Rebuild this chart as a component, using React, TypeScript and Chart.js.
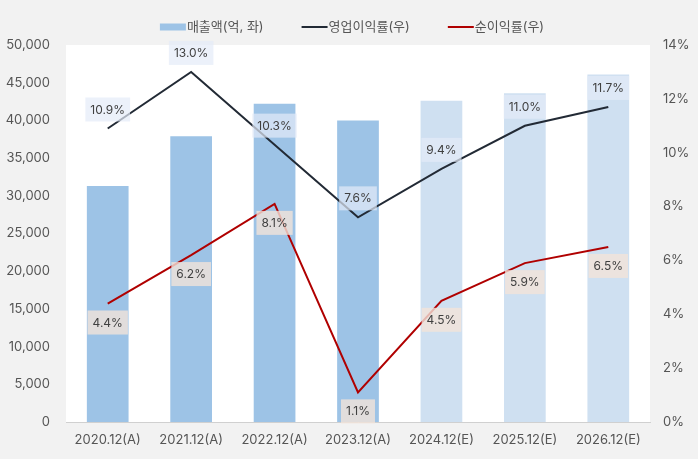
import React, { useEffect, useRef } from "react";
import { Chart, registerables } from "chart.js";

Chart.register(...registerables);

const categories = ["2020.12(A)", "2021.12(A)", "2022.12(A)", "2023.12(A)", "2024.12(E)", "2025.12(E)", "2026.12(E)"];
const revenue = [31300, 37900, 42200, 40000, 42600, 43600, 46100];
const opMargin = [10.9, 13.0, 10.3, 7.6, 9.4, 11.0, 11.7];
const netMargin = [4.4, 6.2, 8.1, 1.1, 4.5, 5.9, 6.5];
const isEstimate = [false, false, false, false, true, true, true];
const seriesNames = ["매출액(억, 좌)", "영업이익률(우)", "순이익률(우)"];

const FONT = "Inter, 'Noto Sans CJK KR', sans-serif";

const bgPlugin = {
  id: "bgPlugin",
  beforeDraw(chart: any) {
    const { ctx, chartArea } = chart;
    ctx.save();
    ctx.fillStyle = "#f2f2f2";
    ctx.fillRect(0, 0, chart.width, chart.height);
    ctx.fillStyle = "#ffffff";
    ctx.fillRect(chartArea.left, chartArea.top, chartArea.right - chartArea.left, chartArea.bottom - chartArea.top);
    ctx.restore();
  },
};

const legendPlugin = {
  id: "customLegend",
  afterDraw(chart: any) {
    const ctx = chart.ctx;
    ctx.save();
    ctx.font = `13px ${FONT}`;
    ctx.textBaseline = "middle";
    const markW = 26;
    const gap = 1;
    const spacing = 38;
    const items = chart.data.datasets.map((d: any) => ({ label: d.label, w: markW + gap + ctx.measureText(d.label).width, ds: d }));
    const total = items.reduce((s: number, it: any) => s + it.w, 0) + spacing * (items.length - 1);
    let x = 352 - total / 2;
    const y = 27;
    items.forEach((it: any) => {
      if (it.ds.type === "bar") {
        ctx.fillStyle = "#9dc3e6";
        ctx.fillRect(x, y - 3.5, markW, 7);
      } else {
        ctx.strokeStyle = it.ds.borderColor;
        ctx.lineWidth = 2;
        ctx.beginPath();
        ctx.moveTo(x, y);
        ctx.lineTo(x + markW, y);
        ctx.stroke();
      }
      ctx.fillStyle = "#555555";
      ctx.textAlign = "left";
      ctx.fillText(it.label, x + markW + gap, y);
      x += it.w + spacing;
    });
    ctx.restore();
  },
};

const labelPlugin = {
  id: "pctLabels",
  afterDatasetsDraw(chart: any) {
    const ctx = chart.ctx;
    ctx.save();
    ctx.font = `12px ${FONT}`;
    ctx.textAlign = "center";
    ctx.textBaseline = "middle";
    chart.data.datasets.forEach((ds: any, di: number) => {
      if (ds.type !== "line") return;
      const meta = chart.getDatasetMeta(di);
      const above = di === 1;
      meta.data.forEach((pt: any, i: number) => {
        const txt = ds.data[i].toFixed(1) + "%";
        const tw = ctx.measureText(txt).width;
        const cx = pt.x;
        const cy = pt.y + (above ? -19 : 19);
        const bw = tw + 10;
        const bh = 24;
        ctx.fillStyle = above ? "rgba(228,235,248,0.7)" : "rgba(243,228,218,0.8)";
        ctx.fillRect(cx - bw / 2, cy - bh / 2, bw, bh);
        ctx.fillStyle = "#404040";
        ctx.fillText(txt, cx, cy + 0.5);
      });
    });
    ctx.restore();
  },
};

export default function App() {
  const ref = useRef<HTMLCanvasElement>(null);
  useEffect(() => {
    document.body.style.margin = "0";
    const chart = new Chart(ref.current!, {
      type: "bar",
      data: {
        labels: categories,
        datasets: [
          {
            type: "bar",
            label: seriesNames[0],
            data: revenue,
            backgroundColor: isEstimate.map((e) => (e ? "#cfe0f1" : "#9dc3e6")),
            yAxisID: "y",
            barPercentage: 0.5,
            categoryPercentage: 1,
            order: 3,
          } as any,
          {
            type: "line",
            label: seriesNames[1],
            data: opMargin,
            borderColor: "#222a35",
            borderWidth: 2,
            pointRadius: 0,
            yAxisID: "y1",
            order: 1,
          } as any,
          {
            type: "line",
            label: seriesNames[2],
            data: netMargin,
            borderColor: "#b00000",
            borderWidth: 2,
            pointRadius: 0,
            yAxisID: "y1",
            order: 2,
          } as any,
        ],
      },
      options: {
        responsive: false,
        animation: false,
        layout: { padding: { top: 45, bottom: 0, left: 0, right: 0 } },
        plugins: { legend: { display: false }, tooltip: { enabled: false } },
        scales: {
          x: {
            grid: { display: false, drawTicks: false },
            border: { display: true, color: "#d0d0d0" },
            ticks: { color: "#555555", font: { family: FONT, size: 13 }, padding: 10, maxRotation: 0 },
            afterFit(s: any) { s.height = 37; },
          },
          y: {
            position: "left",
            min: 0,
            max: 50000,
            grid: { display: false, drawTicks: false },
            border: { display: false },
            ticks: {
              stepSize: 5000,
              color: "#555555",
              font: { family: FONT, size: 13 },
              padding: 16,
              callback: (v: any) => Number(v).toLocaleString("en-US"),
            },
            afterFit(s: any) { s.width = 66; },
          },
          y1: {
            position: "right",
            min: 0,
            max: 14,
            grid: { display: false, drawTicks: false },
            border: { display: false },
            ticks: {
              stepSize: 2,
              color: "#555555",
              font: { family: FONT, size: 13 },
              padding: 13,
              callback: (v: any) => v + "%",
            },
            afterFit(s: any) { s.width = 48; },
          },
        },
      },
      plugins: [bgPlugin, labelPlugin, legendPlugin],
    });
    return () => chart.destroy();
  }, []);
  return (
    <div style={{ position: "absolute", left: 0, top: 0, width: 698, height: 459 }}>
      <canvas ref={ref} width={698} height={459} style={{ display: "block" }} />
    </div>
  );
}
